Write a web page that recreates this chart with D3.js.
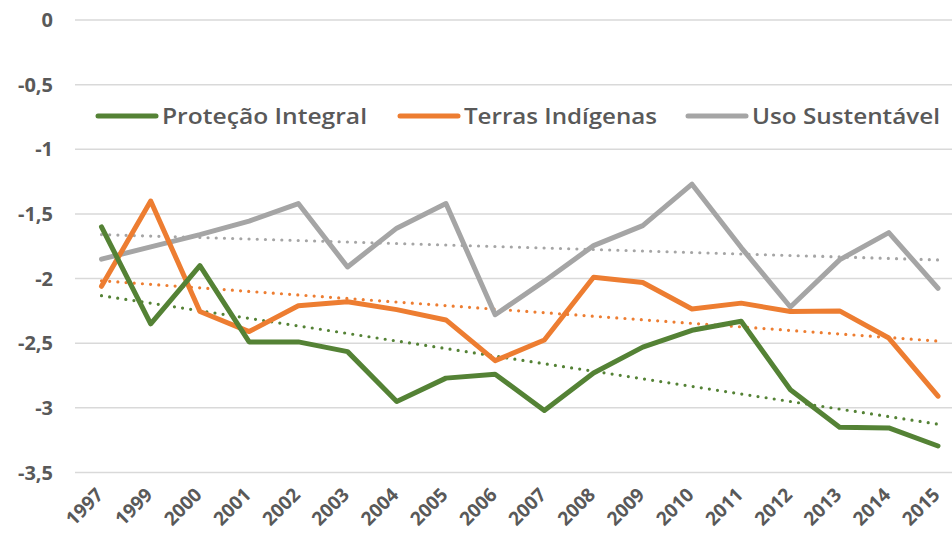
<!DOCTYPE html>
<html>
<head>
<meta charset="utf-8">
<script src="https://cdn.jsdelivr.net/npm/d3@7"></script>
<style>
  html, body { margin: 0; padding: 0; background: #fff; }
  svg { display: block; font-family: "Open Sans", sans-serif; }
</style>
</head>
<body>
<div id="chart"></div>
<script>
// categories and series
const years = ["1997", "1999", "2000", "2001", "2002", "2003", "2004", "2005", "2006",
  "2007", "2008", "2009", "2010", "2011", "2012", "2013", "2014", "2015"];

const protecaoIntegral = [-1.6, -2.35, -1.9, -2.49, -2.49, -2.565, -2.95, -2.77, -2.74,
  -3.02, -2.73, -2.53, -2.40, -2.33, -2.86, -3.15, -3.155, -3.295];
const terrasIndigenas = [-2.06, -1.40, -2.255, -2.41, -2.21, -2.18, -2.24, -2.32, -2.635,
  -2.475, -1.99, -2.03, -2.235, -2.19, -2.255, -2.25, -2.46, -2.91];
const usoSustentavel = [-1.85, -1.755, -1.66, -1.555, -1.42, -1.91, -1.61, -1.42, -2.28,
  -2.02, -1.745, -1.59, -1.27, -1.76, -2.22, -1.855, -1.645, -2.075];

const yTicks = [0, -0.5, -1, -1.5, -2, -2.5, -3, -3.5];

const series = [
  { name: "Proteção Integral", values: protecaoIntegral, color: "#548235" },
  { name: "Terras Indígenas", values: terrasIndigenas, color: "#ED7D31" },
  { name: "Uso Sustentável", values: usoSustentavel, color: "#A5A5A5" }
];

const width = 952;
const height = 545;

const svg = d3.select("#chart").append("svg")
  .attr("width", width)
  .attr("height", height);

const x = d3.scalePoint().domain(years).range([101.5, 938]);
const y = d3.scaleLinear().domain([0, -3.5]).range([20, 472.5]);

// gridlines
svg.append("g")
  .selectAll("line")
  .data(yTicks)
  .enter()
  .append("line")
  .attr("x1", 75)
  .attr("x2", width)
  .attr("y1", (d) => y(d))
  .attr("y2", (d) => y(d))
  .attr("stroke", "#d9d9d9")
  .attr("stroke-width", 1.5);

// y labels
svg.append("g")
  .selectAll("text")
  .data(yTicks)
  .enter()
  .append("text")
  .attr("x", 53)
  .attr("y", (d) => y(d))
  .attr("dy", "0.36em")
  .attr("text-anchor", "end")
  .attr("fill", "#595959")
  .style("font-size", "20px")
  .style("font-weight", 700)
  .text((d) => (d === 0 ? "0" : String(d).replace(".", ",")));

// x labels, rotated
svg.append("g")
  .selectAll("text")
  .data(years)
  .enter()
  .append("text")
  .attr("transform", (d) => `translate(${x(d) + 3},${496}) rotate(-45)`)
  .attr("text-anchor", "end")
  .attr("fill", "#595959")
  .style("font-size", "19px")
  .style("font-weight", 700)
  .text((d) => d);

// linear trend (least squares over category index), like the spreadsheet trendline
function trend(values) {
  const n = values.length;
  const xs = d3.range(n);
  const mx = d3.mean(xs);
  const my = d3.mean(values);
  const b = d3.sum(xs, (i) => (i - mx) * (values[i] - my)) / d3.sum(xs, (i) => (i - mx) * (i - mx));
  const a = my - b * mx;
  return [[0, a], [n - 1, a + b * (n - 1)]];
}

// trend lines (dotted)
series.forEach((s) => {
  const t = trend(s.values);
  svg.append("line")
    .attr("x1", x(years[t[0][0]]))
    .attr("y1", y(t[0][1]))
    .attr("x2", x(years[t[1][0]]))
    .attr("y2", y(t[1][1]))
    .attr("stroke", s.color)
    .attr("stroke-width", 3.2)
    .attr("stroke-linecap", "round")
    .attr("stroke-dasharray", "0 8.2");
});

const line = d3.line()
  .x((d, i) => x(years[i]))
  .y((d) => y(d));

// series lines (grey drawn first, green on top)
series.slice().reverse().forEach((s) => {
  svg.append("path")
    .datum(s.values)
    .attr("d", line)
    .attr("fill", "none")
    .attr("stroke", s.color)
    .attr("stroke-width", 5)
    .attr("stroke-linejoin", "round")
    .attr("stroke-linecap", "round");
});

// legend
const legendItems = [
  { x: 98, w: 205 },
  { x: 400, w: 193 },
  { x: 688, w: 188 }
];
const legend = svg.append("g");
series.forEach((s, i) => {
  const g = legend.append("g").attr("transform", `translate(${legendItems[i].x},116)`);
  g.append("line")
    .attr("x1", 0).attr("x2", 58)
    .attr("stroke", s.color)
    .attr("stroke-width", 5)
    .attr("stroke-linecap", "round");
  g.append("text")
    .attr("x", 64)
    .attr("dy", "0.36em")
    .attr("fill", "#595959")
    .style("font-size", "21px")
    .style("font-weight", 600)
    .attr("textLength", legendItems[i].w)
    .attr("lengthAdjust", "spacingAndGlyphs")
    .text(s.name);
});
</script>
</body>
</html>
